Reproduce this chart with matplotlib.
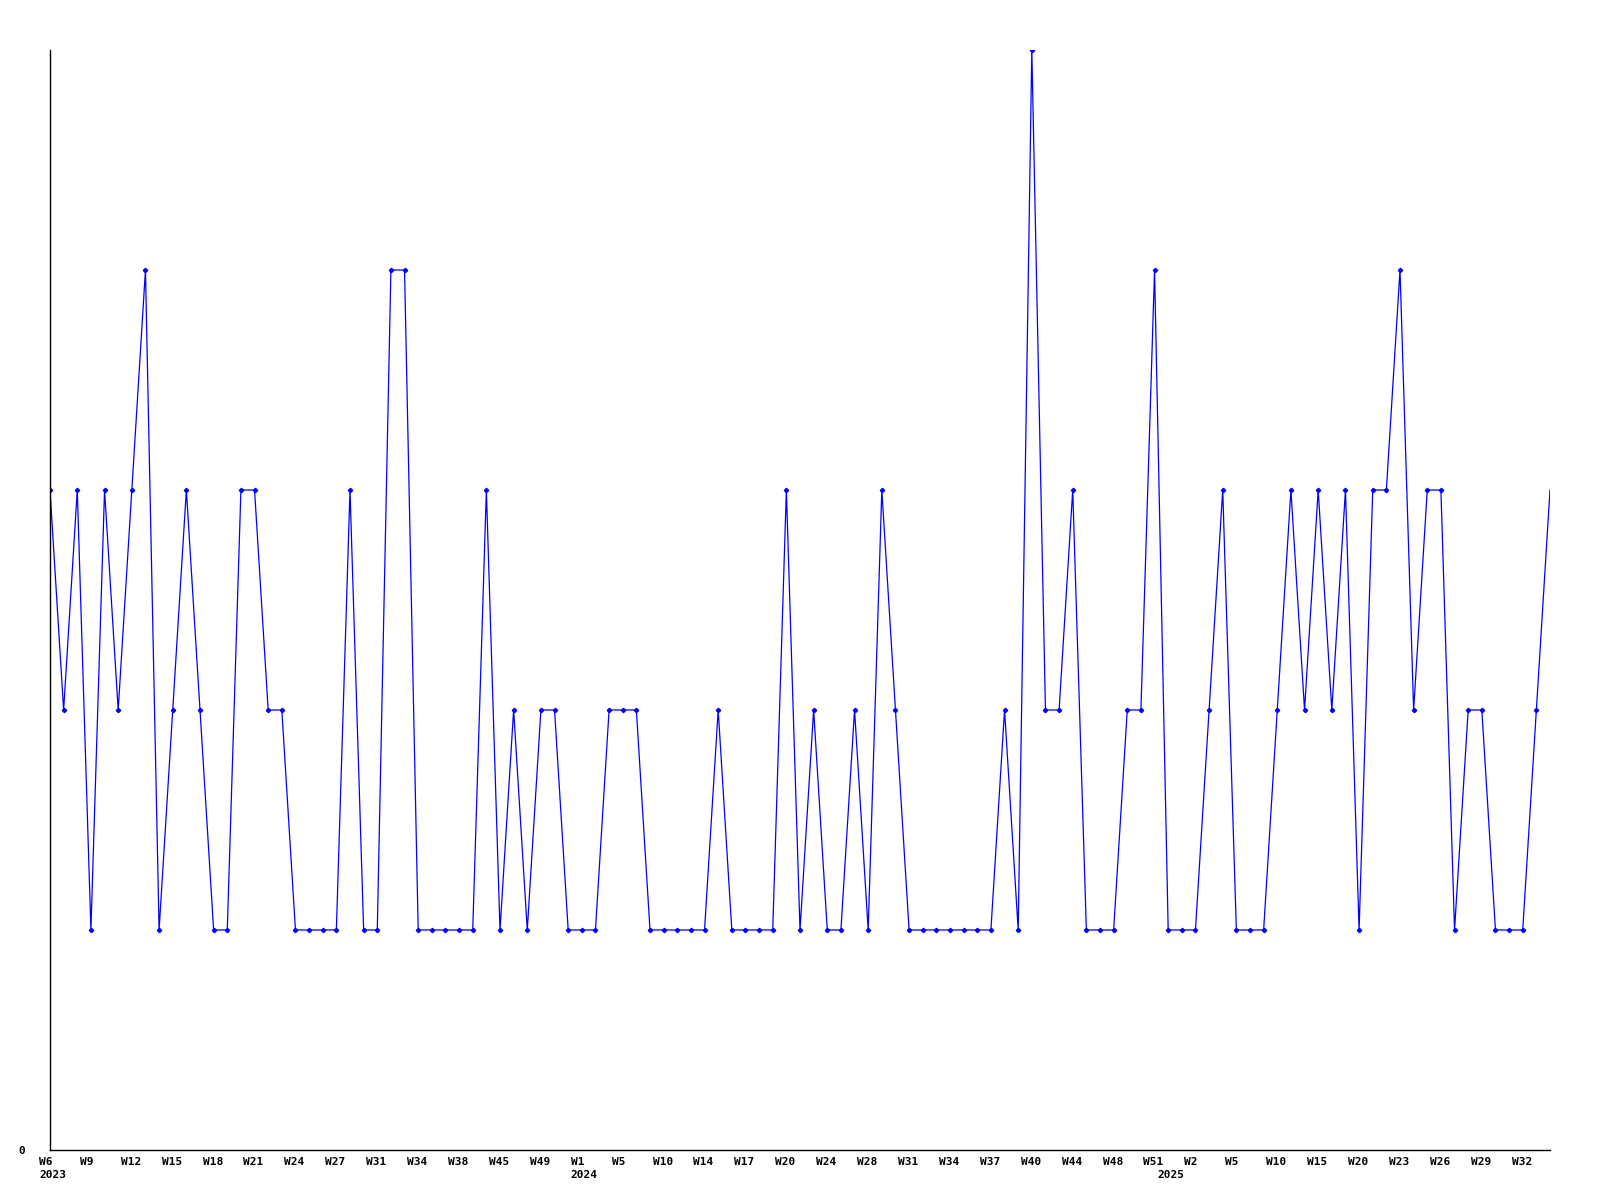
import numpy as np
import matplotlib
matplotlib.use("Agg")
import matplotlib.pyplot as plt
from matplotlib.transforms import ScaledTranslation

# Weekly counts (one point per reported week; some weeks are missing)
values = [3, 2, 3, 1, 3, 2, 3, 4, 1, 2, 3, 2, 1, 1, 3, 3, 2, 2, 1, 1,
          1, 1, 3, 1, 1, 4, 4, 1, 1, 1, 1, 1, 3, 1, 2, 1, 2, 2, 1, 1,
          1, 2, 2, 2, 1, 1, 1, 1, 1, 2, 1, 1, 1, 1, 3, 1, 2, 1, 1, 2,
          1, 3, 2, 1, 1, 1, 1, 1, 1, 1, 2, 1, 5, 2, 2, 3, 1, 1, 1, 2,
          2, 4, 1, 1, 1, 2, 3, 1, 1, 1, 2, 3, 2, 3, 2, 3, 1, 3, 3, 4,
          2, 3, 3, 1, 2, 2, 1, 1, 1, 2, 3]

# Tick labels, one every third point
week_labels = ["W6", "W9", "W12", "W15", "W18", "W21", "W24", "W27", "W31",
               "W34", "W38", "W45", "W49", "W1", "W5", "W10", "W14", "W17",
               "W20", "W24", "W28", "W31", "W34", "W37", "W40", "W44", "W48",
               "W51", "W2", "W5", "W10", "W15", "W20", "W23", "W26", "W29",
               "W32"]
# index of the first reported week of each year
year_starts = [0, 39, 82]
year_names = ["2023", "2024", "2025"]

x = np.arange(len(values))
tick_pos = x[::3][:len(week_labels)]

fig = plt.figure(figsize=(16, 12), dpi=100)
ax = fig.add_axes([0.03125, 0.0417, 0.9375, 0.9166])

ax.plot(x, values, color="#0000ff", lw=0.9, marker="D", ms=2.2,
        markevery=slice(0, len(values) - 1))

ax.set_xlim(0, len(values) - 1)
ax.set_ylim(0, max(values))

for s in ["top", "right"]:
    ax.spines[s].set_visible(False)
for s in ["left", "bottom"]:
    ax.spines[s].set_linewidth(1.0)

font = dict(family="DejaVu Sans Mono", fontsize=8, fontweight="bold")

ax.set_yticks([0])
ax.set_yticklabels(["0"], **font)
ax.tick_params(axis="y", length=0, pad=18)

# labels start a little left of their point
shift = ScaledTranslation(-8 / 72, 0, fig.dpi_scale_trans)

ax.set_xticks(tick_pos)
ax.set_xticklabels(week_labels, ha="left", **font)
ax.tick_params(axis="x", length=0, pad=5)
for lab in ax.get_xticklabels():
    lab.set_transform(lab.get_transform() + shift)

for i, yr in zip(year_starts, year_names):
    ax.text(x[i], -0.0185, yr, transform=ax.get_xaxis_transform() + shift,
            ha="left", va="top", **font)

fig.savefig("out.png", dpi=100)
